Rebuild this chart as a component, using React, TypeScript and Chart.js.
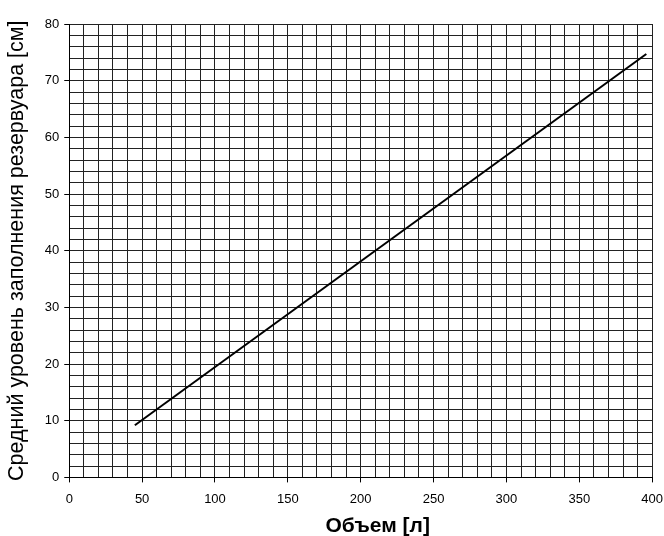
import React, { useEffect, useRef } from "react";
import { Chart, registerables } from "chart.js";

Chart.register(...registerables);

const volumes = [45, 396];
const levels = [9.2, 74.7];
const xTitle = "Объем [л]";
const yTitle = "Средний уровень заполнения резервуара [см]";

const FONT = "'Liberation Sans', Arial, sans-serif";

const xTitlePlugin = {
  id: "xTitlePlugin",
  afterDraw(chart: any) {
    const x = chart.scales.x;
    const ctx = chart.ctx;
    ctx.save();
    ctx.font = `bold 21px ${FONT}`;
    ctx.fillStyle = "#000";
    ctx.textAlign = "center";
    ctx.textBaseline = "middle";
    const cx = (x.left + x.right) / 2 + 17;
    ctx.fillText(xTitle, cx, x.bottom + 10);
    ctx.restore();
  },
};

export default function App() {
  const ref = useRef<HTMLCanvasElement | null>(null);
  useEffect(() => {
    if (!ref.current) return;
    const chart = new Chart(ref.current, {
      type: "scatter",
      data: {
        datasets: [
          {
            data: volumes.map((v, i) => ({ x: v, y: levels[i] })),
            showLine: true,
            borderColor: "#000",
            borderWidth: 2,
            pointRadius: 0,
            fill: false,
          },
        ],
      },
      plugins: [xTitlePlugin],
      options: {
        animation: false,
        responsive: false,
        maintainAspectRatio: false,
        layout: { padding: { left: 4, right: 0, top: 24, bottom: 20 } },
        plugins: { legend: { display: false }, tooltip: { enabled: false } },
        scales: {
          x: {
            type: "linear",
            min: 0,
            max: 400,
            ticks: {
              stepSize: 10,
              autoSkip: false,
              maxRotation: 0,
              color: "#000",
              font: { family: FONT, size: 13 },
              padding: 9,
              callback: (v: any) => (Number(v) % 50 === 0 ? String(v) : ""),
            },
            grid: {
              color: "#222",
              lineWidth: 1,
              tickLength: 5,
              tickColor: (ctx: any) =>
                ctx.tick && ctx.tick.value % 50 === 0 ? "#000" : "rgba(0,0,0,0)",
            },
            border: { color: "#000", width: 1 },
          },
          y: {
            type: "linear",
            min: 0,
            max: 80,
            ticks: {
              stepSize: 2,
              autoSkip: false,
              color: "#000",
              font: { family: FONT, size: 13 },
              padding: 5,
              callback: (v: any) => (Number(v) % 10 === 0 ? String(v) : ""),
            },
            grid: {
              color: "#222",
              lineWidth: 1,
              tickLength: 5,
              tickColor: (ctx: any) =>
                ctx.tick && ctx.tick.value % 10 === 0 ? "#000" : "rgba(0,0,0,0)",
            },
            border: { color: "#000", width: 1 },
            title: {
              display: true,
              text: yTitle,
              color: "#000",
              font: { family: FONT, size: 21.5 },
              padding: { top: 0, bottom: 10 },
            },
          },
        },
      },
    });
    return () => chart.destroy();
  }, []);
  return (
    <div style={{ position: "absolute", left: 0, top: 0, width: 664, height: 536, overflow: "hidden", background: "#fff" }}>
      <canvas ref={ref} width={672} height={536} style={{ width: 672, height: 536 }} />
    </div>
  );
}
